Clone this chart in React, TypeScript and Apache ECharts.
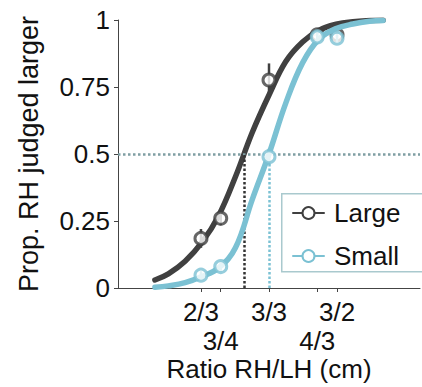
import React, { useEffect, useRef } from "react";
import * as echarts from "echarts";

// ---- data ----
const TICK_RATIOS = [2 / 3, 3 / 4, 1, 4 / 3, 3 / 2];
const TICK_LABELS = ["2/3", "3/4", "3/3", "4/3", "3/2"];
const TICK_ROW = [1, 2, 1, 2, 1];
const Y_TICKS_STEP = 0.25;

const LARGE_PROP = [0.185, 0.26, 0.776, 0.945, 0.945];
const SMALL_PROP = [0.048, 0.08, 0.49, 0.937, 0.932];
const LARGE_ERR = [0.035, 0.025, 0.062, 0.015, 0.015];
const SMALL_ERR = [0.015, 0.02, 0.03, 0.015, 0.015];

// fitted curves (x in ln(ratio))
const CURVE_LOG_RATIO = [-0.68, -0.6, -0.5, -0.4, -0.3, -0.2, -0.1, 0, 0.1, 0.2, 0.3, 0.4, 0.5, 0.6, 0.68];
const LARGE_CURVE = [0.03, 0.053, 0.1, 0.17, 0.27, 0.415, 0.58, 0.72, 0.845, 0.918, 0.962, 0.984, 0.994, 0.998, 0.999];
const SMALL_CURVE = [0.003, 0.008, 0.02, 0.043, 0.075, 0.15, 0.33, 0.5, 0.69, 0.84, 0.93, 0.968, 0.985, 0.995, 0.998];

const PSE_LARGE_LOG = -0.15;
const PSE_SMALL_LOG = 0.0;
const X_MIN_LOG = -0.9;
const X_MAX_LOG = 0.9;

const DARK = "#404040";
const BLUE = "#7bc1d3";
const REF = "#7f9ea3";
const FONT = "'Liberation Sans', Arial, Helvetica, sans-serif";
const TXT = "#111";
const FS = 26;

export default function App() {
  const ref = useRef<HTMLDivElement>(null);
  useEffect(() => {
    if (!ref.current) return;
    const chart = echarts.init(ref.current, null, { renderer: "svg" });
    const tickLn = TICK_RATIOS.map((r) => Math.log(r));
    const row1 = tickLn.filter((_, i) => TICK_ROW[i] === 1);
    const row2 = tickLn.filter((_, i) => TICK_ROW[i] === 2);
    const labelFor = (v: number) => {
      const i = tickLn.findIndex((t) => Math.abs(t - v) < 1e-6);
      return i < 0 ? "" : TICK_LABELS[i];
    };
    const pts = (p: number[]) => TICK_RATIOS.map((r, i) => [Math.log(r), p[i]]);
    const errs = (p: number[], e: number[]) => TICK_RATIOS.map((r, i) => [Math.log(r), p[i], e[i]]);
    const curve = (c: number[]) => CURVE_LOG_RATIO.map((x, i) => [x, c[i]]);
    const errSeries = (name: string, data: number[][], color: string, z: number) => ({
      type: "custom",
      name,
      z,
      silent: true,
      encode: { x: 0, y: 1 },
      data,
      renderItem: (_params: any, api: any) => {
        const x = api.value(0);
        const y = api.value(1);
        const e = api.value(2);
        const a = api.coord([x, y + e]);
        const b = api.coord([x, y - e]);
        return {
          type: "line",
          shape: { x1: a[0], y1: a[1], x2: b[0], y2: b[1] },
          style: { stroke: color, lineWidth: 2.5 },
        };
      },
    });
    const labelBase = { fontSize: FS, lineHeight: 24, color: TXT, fontFamily: FONT, hideOverlap: false, formatter: labelFor };

    chart.setOption({
      animation: false,
      grid: { left: 118, right: 2, top: 20, bottom: 99, outerBoundsMode: "none", containLabel: false },
      graphic: [
        {
          type: "rect",
          left: 281,
          top: 193,
          z: 3,
          silent: true,
          shape: { width: 160, height: 78 },
          style: { fill: "#fff", stroke: "#a9c9ce", lineWidth: 1.5 },
        },
      ],
      xAxis: [
        {
          type: "value",
          min: X_MIN_LOG,
          max: X_MAX_LOG,
          name: "Ratio RH/LH (cm)",
          nameLocation: "middle",
          nameGap: 68,
          nameMoveOverlap: false,
          nameTextStyle: { fontSize: FS, lineHeight: 26, color: TXT, fontFamily: FONT },
          axisLine: { onZero: false, lineStyle: { color: "#444", width: 1 } },
          axisTick: { show: true, customValues: tickLn, length: 4, lineStyle: { color: "#444" } },
          axisLabel: { ...labelBase, customValues: row1, margin: 12 },
          splitLine: { show: false },
        },
        {
          type: "value",
          position: "bottom",
          min: X_MIN_LOG,
          max: X_MAX_LOG,
          axisLine: { show: false, onZero: false },
          axisTick: { show: false },
          axisLabel: { ...labelBase, customValues: row2, margin: 41 },
          splitLine: { show: false },
        },
      ],
      yAxis: {
        type: "value",
        min: 0,
        max: 1,
        interval: Y_TICKS_STEP,
        name: "Prop. RH judged larger",
        nameLocation: "middle",
        nameGap: 76,
        nameTextStyle: { fontSize: 27, color: TXT, fontFamily: FONT },
        axisLine: { show: true, onZero: false, lineStyle: { color: "#444", width: 1 } },
        axisTick: { show: true, length: 4, lineStyle: { color: "#444" } },
        axisLabel: { fontSize: FS, margin: 8, color: TXT, fontFamily: FONT },
        splitLine: { show: false },
      },
      legend: {
        data: [
          { name: "Large", itemStyle: { color: DARK } },
          { name: "Small", itemStyle: { color: BLUE } },
        ],
        orient: "vertical",
        left: 281,
        top: 193,
        z: 4,
        itemWidth: 31,
        itemHeight: 15,
        itemGap: 15,
        padding: [6, 10, 2, 11],
        borderWidth: 0,
        selectedMode: false,
        textStyle: { fontSize: FS, color: TXT, fontFamily: FONT, lineHeight: 28, padding: [0, 0, 0, 5] },
      },
      series: [
        {
          type: "line",
          name: "ref",
          data: [],
          z: 1,
          silent: true,
          markLine: {
            silent: true,
            symbol: ["none", "none"],
            label: { show: false },
            animation: false,
            data: [
              { yAxis: 0.5, lineStyle: { color: REF, type: [2.5, 2.5], width: 2.5 } },
              [
                { coord: [PSE_LARGE_LOG, 0], lineStyle: { color: "#333", type: [2.5, 2], width: 2.5 } },
                { coord: [PSE_LARGE_LOG, 0.5], lineStyle: { color: "#333", type: [2.5, 2], width: 2.5 } },
              ],
              [
                { coord: [PSE_SMALL_LOG, 0], lineStyle: { color: BLUE, type: [2.5, 2], width: 2.5 } },
                { coord: [PSE_SMALL_LOG, 0.5], lineStyle: { color: BLUE, type: [2.5, 2], width: 2.5 } },
              ],
            ],
          },
        },
        {
          type: "line",
          name: "Large",
          data: curve(LARGE_CURVE),
          smooth: 0.4,
          showSymbol: false,
          color: DARK,
          lineStyle: { color: DARK, width: 5.5, cap: "round" },
          z: 2,
          silent: true,
        },
        errSeries("Large err", errs(LARGE_PROP, LARGE_ERR), DARK, 3),
        {
          type: "scatter",
          name: "Large pts",
          data: pts(LARGE_PROP),
          symbol: "circle",
          symbolSize: 12,
          itemStyle: { color: "#fff", borderColor: DARK, borderWidth: 3 },
          z: 4,
          silent: true,
        },
        {
          type: "line",
          name: "Small",
          data: curve(SMALL_CURVE),
          smooth: 0.4,
          showSymbol: false,
          color: BLUE,
          lineStyle: { color: BLUE, width: 5.5, cap: "round" },
          z: 5,
          silent: true,
        },
        errSeries("Small err", errs(SMALL_PROP, SMALL_ERR), BLUE, 6),
        {
          type: "scatter",
          name: "Small pts",
          data: pts(SMALL_PROP),
          symbol: "circle",
          symbolSize: 12,
          itemStyle: { color: "#fff", borderColor: BLUE, borderWidth: 3 },
          z: 7,
          silent: true,
        },
      ],
    });
    return () => chart.dispose();
  }, []);
  return <div ref={ref} style={{ position: "fixed", left: 0, top: 0, width: 422, height: 387, background: "#fff" }} />;
}
